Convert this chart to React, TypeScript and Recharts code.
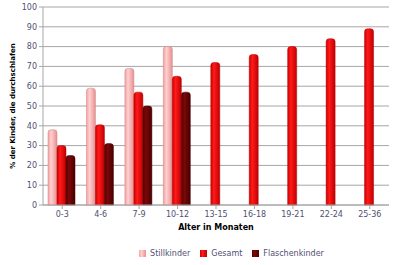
import React from 'react';
import {
  BarChart,
  Bar,
  XAxis,
  YAxis,
  CartesianGrid,
  Legend,
} from 'recharts';

const ageGroups = ['0-3', '4-6', '7-9', '10-12', '13-15', '16-18', '19-21', '22-24', '25-36'];
const stillkinder = [38, 59, 69, 80, null, null, null, null, null];
const gesamt = [30, 40.5, 57, 65, 72, 76, 80, 84, 89];
const flaschenkinder = [25, 31, 50, 57, null, null, null, null, null];
const yTicks = [0, 10, 20, 30, 40, 50, 60, 70, 80, 90, 100];
const seriesOrder = ['Stillkinder', 'Gesamt', 'Flaschenkinder'];

const data = ageGroups.map((name, i) => ({
  name,
  Stillkinder: stillkinder[i],
  Gesamt: gesamt[i],
  Flaschenkinder: flaschenkinder[i],
}));

const font = 'Tahoma, "DejaVu Sans", sans-serif';

const App = () => {
  return (
    <div style={{ position: 'absolute', left: 0, top: 0, width: 400, height: 265, background: '#fff' }}>
      <BarChart
        width={400}
        height={265}
        data={data}
        margin={{ top: 7, right: 11, left: 0, bottom: 0 }}
        barCategoryGap={5}
        barGap={0}
      >
        <defs>
          <linearGradient id="gStill" x1="0" y1="0" x2="1" y2="0">
            <stop offset="0%" stopColor="#f4a0a0" />
            <stop offset="35%" stopColor="#ffd0d0" />
            <stop offset="100%" stopColor="#e89090" />
          </linearGradient>
          <linearGradient id="gGesamt" x1="0" y1="0" x2="1" y2="0">
            <stop offset="0%" stopColor="#d00000" />
            <stop offset="35%" stopColor="#ff1a1a" />
            <stop offset="100%" stopColor="#c00000" />
          </linearGradient>
          <linearGradient id="gFlasche" x1="0" y1="0" x2="1" y2="0">
            <stop offset="0%" stopColor="#5a0000" />
            <stop offset="35%" stopColor="#7a0808" />
            <stop offset="100%" stopColor="#4a0000" />
          </linearGradient>
        </defs>
        <CartesianGrid vertical={false} stroke="#a6a6a6" />
        <XAxis
          dataKey="name"
          height={44}
          tick={{ fontSize: 8, fill: '#505070', fontFamily: font }}
          tickLine={{ stroke: '#a6a6a6' }}
          axisLine={{ stroke: '#a6a6a6' }}
          tickSize={4}
          interval={0}
          label={{ value: 'Alter in Monaten', position: 'insideBottom', offset: 19, fontSize: 8, fontWeight: 'bold', fill: '#000', fontFamily: font }}
        />
        <YAxis
          width={43}
          domain={[0, 100]}
          ticks={yTicks}
          interval={0}
          tick={{ fontSize: 8, fill: '#505070', fontFamily: font }}
          tickLine={{ stroke: '#a6a6a6' }}
          axisLine={{ stroke: '#a6a6a6' }}
          tickSize={4}
          label={{ value: '% der Kinder, die durchschlafen', angle: -90, position: 'insideLeft', offset: 13, fontSize: 7, fontWeight: 'bold', fill: '#000', fontFamily: font, style: { textAnchor: 'middle' } }}
        />
        <Legend
          verticalAlign="bottom"
          height={16}
          iconType="square"
          iconSize={7}
          itemSorter={(item: any) => seriesOrder.indexOf(item.value)}
          wrapperStyle={{ fontSize: 8, fontFamily: font, paddingLeft: 42, lineHeight: '10px' }}
          formatter={(v) => <span style={{ color: '#505070' }}>{v}</span>}
        />
        <Bar dataKey="Stillkinder" fill="url(#gStill)" stroke="#d08080" strokeWidth={0.5} radius={[3, 3, 0, 0]} isAnimationActive={false} legendType="square" />
        <Bar dataKey="Gesamt" fill="url(#gGesamt)" stroke="#b00000" strokeWidth={0.5} radius={[3, 3, 0, 0]} isAnimationActive={false} legendType="square" />
        <Bar dataKey="Flaschenkinder" fill="url(#gFlasche)" stroke="#400000" strokeWidth={0.5} radius={[3, 3, 0, 0]} isAnimationActive={false} legendType="square" />
      </BarChart>
    </div>
  );
};

export default App;
